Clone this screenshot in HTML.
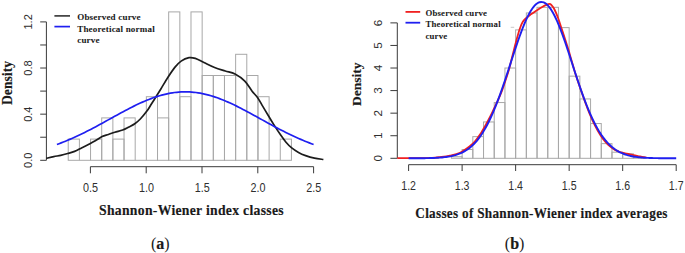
<!DOCTYPE html>
<html><head><meta charset="utf-8"><title>Histograms</title>
<style>
html,body{margin:0;padding:0;background:#fff;}
body{width:685px;height:253px;overflow:hidden;font-family:"Liberation Sans",sans-serif;}
svg{display:block;}
</style></head><body>
<svg width="685" height="253" viewBox="0 0 685 253">
<rect width="685" height="253" fill="#fff"/>
<g fill="none" stroke="#a8a8a8" stroke-width="1"><rect x="68.23" y="139.10" width="11.16" height="21.20"/><path d="M79.39,160.30 L90.55,160.30"/><rect x="90.55" y="139.10" width="11.16" height="21.20"/><rect x="101.71" y="117.90" width="11.16" height="42.40"/><rect x="112.87" y="139.10" width="11.16" height="21.20"/><rect x="124.03" y="117.90" width="11.16" height="42.40"/><path d="M135.19,160.30 L146.35,160.30"/><rect x="146.35" y="96.70" width="11.16" height="63.60"/><rect x="157.51" y="117.90" width="11.16" height="42.40"/><rect x="168.67" y="11.90" width="11.16" height="148.40"/><rect x="179.83" y="96.70" width="11.16" height="63.60"/><rect x="190.99" y="11.90" width="11.16" height="148.40"/><rect x="202.15" y="75.50" width="11.16" height="84.80"/><rect x="213.31" y="75.50" width="11.16" height="84.80"/><rect x="224.47" y="75.50" width="11.16" height="84.80"/><rect x="235.63" y="54.30" width="11.16" height="106.00"/><rect x="246.79" y="75.50" width="11.16" height="84.80"/><rect x="257.95" y="96.70" width="11.16" height="63.60"/><path d="M269.11,160.30 L280.27,160.30"/><rect x="280.27" y="139.10" width="11.16" height="21.20"/></g>
<g stroke="#3a3a3a" stroke-width="1" fill="none">
<path d="M46.4,21.9 L46.4,160.3"/>
<path d="M40.2,160.30 L46.4,160.30"/>
<path d="M40.2,137.23 L46.4,137.23"/>
<path d="M40.2,114.17 L46.4,114.17"/>
<path d="M40.2,91.10 L46.4,91.10"/>
<path d="M40.2,68.03 L46.4,68.03"/>
<path d="M40.2,44.97 L46.4,44.97"/>
<path d="M40.2,21.90 L46.4,21.90"/>
<path d="M90.4,166.7 L313.6,166.7"/>
<path d="M90.40,166.7 L90.40,173.3"/>
<path d="M146.20,166.7 L146.20,173.3"/>
<path d="M202.00,166.7 L202.00,173.3"/>
<path d="M257.80,166.7 L257.80,173.3"/>
<path d="M313.60,166.7 L313.60,173.3"/>
</g>
<path d="M46.20,158.40 C47.47,158.10 51.38,157.12 53.80,156.60 C56.22,156.08 58.38,155.82 60.70,155.30 C63.02,154.78 65.38,154.15 67.70,153.50 C70.02,152.85 72.30,152.32 74.60,151.40 C76.90,150.48 79.20,149.15 81.50,148.00 C83.80,146.85 86.10,145.70 88.40,144.50 C90.70,143.30 93.02,142.12 95.30,140.80 C97.58,139.48 99.92,137.65 102.10,136.60 C104.28,135.55 106.28,135.23 108.40,134.50 C110.52,133.77 112.42,132.95 114.80,132.20 C117.18,131.45 120.33,130.88 122.70,130.00 C125.07,129.12 126.98,127.95 129.00,126.90 C131.02,125.85 132.92,125.02 134.80,123.70 C136.68,122.38 138.28,121.10 140.30,119.00 C142.32,116.90 145.05,113.60 146.90,111.10 C148.75,108.60 149.83,106.47 151.40,104.00 C152.97,101.53 154.70,98.85 156.30,96.30 C157.90,93.75 159.13,91.75 161.00,88.70 C162.87,85.65 165.20,81.55 167.50,78.00 C169.80,74.45 172.53,70.22 174.80,67.40 C177.07,64.58 178.73,62.72 181.10,61.10 C183.47,59.48 186.63,58.15 189.00,57.70 C191.37,57.25 192.82,57.60 195.30,58.40 C197.78,59.20 200.68,60.98 203.90,62.50 C207.12,64.02 211.03,66.08 214.60,67.50 C218.17,68.92 221.90,69.92 225.30,71.00 C228.70,72.08 231.75,72.32 235.00,74.00 C238.25,75.68 241.95,78.23 244.80,81.10 C247.65,83.97 249.98,88.47 252.10,91.20 C254.22,93.93 255.72,94.97 257.50,97.50 C259.28,100.03 261.03,103.45 262.80,106.40 C264.57,109.35 266.32,112.25 268.10,115.20 C269.88,118.15 271.40,120.78 273.50,124.10 C275.60,127.42 278.62,132.08 280.70,135.10 C282.78,138.12 284.22,140.12 286.00,142.20 C287.78,144.28 289.32,145.90 291.40,147.60 C293.48,149.30 296.13,151.07 298.50,152.40 C300.87,153.73 302.93,154.63 305.60,155.60 C308.27,156.57 311.53,157.55 314.50,158.20 C317.47,158.85 321.92,159.28 323.40,159.50" fill="none" stroke="#1c1c1c" stroke-width="1.7" stroke-linejoin="round"/>
<path d="M56.92,144.47 L59.06,143.68 L61.20,142.87 L63.34,142.04 L65.48,141.18 L67.62,140.30 L69.75,139.39 L71.89,138.46 L74.03,137.51 L76.17,136.53 L78.31,135.53 L80.45,134.52 L82.59,133.48 L84.73,132.42 L86.87,131.35 L89.01,130.26 L91.14,129.15 L93.28,128.03 L95.42,126.89 L97.56,125.74 L99.70,124.59 L101.84,123.42 L103.98,122.25 L106.12,121.07 L108.26,119.88 L110.40,118.70 L112.53,117.52 L114.67,116.33 L116.81,115.16 L118.95,113.98 L121.09,112.82 L123.23,111.67 L125.37,110.53 L127.51,109.40 L129.65,108.29 L131.78,107.20 L133.92,106.13 L136.06,105.09 L138.20,104.07 L140.34,103.08 L142.48,102.11 L144.62,101.18 L146.76,100.29 L148.90,99.43 L151.04,98.60 L153.18,97.82 L155.31,97.08 L157.45,96.38 L159.59,95.73 L161.73,95.12 L163.87,94.56 L166.01,94.05 L168.15,93.59 L170.29,93.18 L172.43,92.83 L174.56,92.53 L176.70,92.28 L178.84,92.08 L180.98,91.94 L183.12,91.86 L185.26,91.83 L187.40,91.86 L189.54,91.94 L191.68,92.08 L193.82,92.28 L195.95,92.53 L198.09,92.83 L200.23,93.18 L202.37,93.59 L204.51,94.05 L206.65,94.56 L208.79,95.12 L210.93,95.73 L213.07,96.38 L215.21,97.08 L217.34,97.82 L219.48,98.60 L221.62,99.43 L223.76,100.29 L225.90,101.18 L228.04,102.11 L230.18,103.08 L232.32,104.07 L234.46,105.09 L236.60,106.13 L238.73,107.20 L240.87,108.29 L243.01,109.40 L245.15,110.53 L247.29,111.67 L249.43,112.82 L251.57,113.98 L253.71,115.16 L255.85,116.33 L257.99,117.52 L260.12,118.70 L262.26,119.88 L264.40,121.07 L266.54,122.25 L268.68,123.42 L270.82,124.59 L272.96,125.74 L275.10,126.89 L277.24,128.03 L279.38,129.15 L281.51,130.26 L283.65,131.35 L285.79,132.42 L287.93,133.48 L290.07,134.52 L292.21,135.53 L294.35,136.53 L296.49,137.51 L298.63,138.46 L300.77,139.39 L302.90,140.30 L305.04,141.18 L307.18,142.04 L309.32,142.87 L311.46,143.68 L313.60,144.47" fill="none" stroke="#1f1ff0" stroke-width="1.7"/>
<text transform="translate(31.6,160.30) rotate(-90) scale(0.94,1)" text-anchor="middle" font-family="Liberation Sans, sans-serif" font-size="11.8" fill="#2e2e2e">0.0</text>
<text transform="translate(31.6,114.17) rotate(-90) scale(0.94,1)" text-anchor="middle" font-family="Liberation Sans, sans-serif" font-size="11.8" fill="#2e2e2e">0.4</text>
<text transform="translate(31.6,68.03) rotate(-90) scale(0.94,1)" text-anchor="middle" font-family="Liberation Sans, sans-serif" font-size="11.8" fill="#2e2e2e">0.8</text>
<text transform="translate(31.6,21.90) rotate(-90) scale(0.94,1)" text-anchor="middle" font-family="Liberation Sans, sans-serif" font-size="11.8" fill="#2e2e2e">1.2</text>
<text transform="translate(90.60,191.6) scale(0.87,1)" text-anchor="middle" font-family="Liberation Sans, sans-serif" font-size="12.4" fill="#2e2e2e">0.5</text>
<text transform="translate(146.40,191.6) scale(0.87,1)" text-anchor="middle" font-family="Liberation Sans, sans-serif" font-size="12.4" fill="#2e2e2e">1.0</text>
<text transform="translate(202.20,191.6) scale(0.87,1)" text-anchor="middle" font-family="Liberation Sans, sans-serif" font-size="12.4" fill="#2e2e2e">1.5</text>
<text transform="translate(258.00,191.6) scale(0.87,1)" text-anchor="middle" font-family="Liberation Sans, sans-serif" font-size="12.4" fill="#2e2e2e">2.0</text>
<text transform="translate(313.80,191.6) scale(0.87,1)" text-anchor="middle" font-family="Liberation Sans, sans-serif" font-size="12.4" fill="#2e2e2e">2.5</text>
<text transform="translate(11.5,83.0) rotate(-90)" text-anchor="middle" font-family="Liberation Serif, serif" stroke="#1a1a1a" stroke-width="0.15" font-weight="bold" font-size="13.7" fill="#1a1a1a">Density</text>
<text transform="translate(99.0,215.0) scale(0.958,1)" font-family="Liberation Serif, serif" stroke="#1a1a1a" stroke-width="0.15" font-weight="bold" font-size="14.3" letter-spacing="0.3" fill="#1a1a1a">Shannon-Wiener index classes</text>
<text x="151.0" y="248.5" font-family="Liberation Serif, serif" font-size="16" fill="#1a1a1a">(<tspan font-weight="bold" stroke="#1a1a1a" stroke-width="0.2">a</tspan>)</text>
<path d="M54.4,15.9 L70.0,15.9" stroke="#333" stroke-width="1.6"/>
<path d="M54.4,26.6 L70.0,26.6" stroke="#1f1ff0" stroke-width="1.7"/>
<g font-family="Liberation Serif, serif" stroke="#1a1a1a" stroke-width="0.05" font-weight="bold" font-size="9.05" letter-spacing="0.18" fill="#1a1a1a">
<text x="77.2" y="20.0">Observed curve</text>
<text x="77.2" y="32.0">Theoretical normal</text>
<text x="77.2" y="42.9">curve</text>
</g>
<g fill="none" stroke="#a8a8a8" stroke-width="1"><rect x="451.42" y="156.72" width="10.70" height="1.58"/><rect x="462.12" y="149.50" width="10.70" height="8.80"/><rect x="472.82" y="136.63" width="10.70" height="21.67"/><rect x="483.53" y="121.96" width="10.70" height="36.34"/><rect x="494.23" y="102.55" width="10.70" height="55.75"/><rect x="504.94" y="68.02" width="10.70" height="90.28"/><rect x="515.64" y="29.88" width="10.70" height="128.42"/><rect x="526.34" y="12.95" width="10.70" height="145.35"/><rect x="537.05" y="7.31" width="10.70" height="150.99"/><rect x="547.75" y="7.31" width="10.70" height="150.99"/><rect x="558.46" y="27.62" width="10.70" height="130.68"/><rect x="569.16" y="76.15" width="10.70" height="82.15"/><rect x="579.86" y="98.94" width="10.70" height="59.36"/><rect x="590.57" y="123.54" width="10.70" height="34.76"/><rect x="601.27" y="143.63" width="10.70" height="14.67"/><rect x="611.98" y="152.21" width="10.70" height="6.09"/><rect x="622.68" y="153.79" width="10.70" height="4.51"/><rect x="633.38" y="156.95" width="10.70" height="1.35"/></g>
<g stroke="#3a3a3a" stroke-width="1" fill="none">
<path d="M397.3,22.9 L397.3,158.3"/>
<path d="M390.4,158.30 L397.3,158.30"/>
<path d="M390.4,135.73 L397.3,135.73"/>
<path d="M390.4,113.16 L397.3,113.16"/>
<path d="M390.4,90.59 L397.3,90.59"/>
<path d="M390.4,68.02 L397.3,68.02"/>
<path d="M390.4,45.45 L397.3,45.45"/>
<path d="M390.4,22.88 L397.3,22.88"/>
<path d="M408.6,164.7 L676.2,164.7"/>
<path d="M408.60,164.7 L408.60,171.0"/>
<path d="M462.12,164.7 L462.12,171.0"/>
<path d="M515.64,164.7 L515.64,171.0"/>
<path d="M569.16,164.7 L569.16,171.0"/>
<path d="M622.68,164.7 L622.68,171.0"/>
<path d="M676.20,164.7 L676.20,171.0"/>
</g>
<path d="M397.30,158.10 C401.08,158.10 414.22,158.13 420.00,158.10 C425.78,158.07 428.67,158.07 432.00,157.90 C435.33,157.73 437.00,157.48 440.00,157.10 C443.00,156.72 446.67,156.33 450.00,155.60 C453.33,154.87 456.67,154.30 460.00,152.70 C463.33,151.10 467.50,147.90 470.00,146.00 C472.50,144.10 473.33,143.20 475.00,141.30 C476.67,139.40 478.33,137.12 480.00,134.60 C481.67,132.08 483.33,129.15 485.00,126.20 C486.67,123.25 488.50,119.83 490.00,116.90 C491.50,113.97 492.67,111.38 494.00,108.60 C495.33,105.82 496.67,103.20 498.00,100.20 C499.33,97.20 500.83,93.65 502.00,90.60 C503.17,87.55 503.83,85.43 505.00,81.90 C506.17,78.37 507.68,74.05 509.00,69.40 C510.32,64.75 511.58,59.13 512.90,54.00 C514.22,48.87 515.75,42.82 516.90,38.60 C518.05,34.38 518.82,31.50 519.80,28.70 C520.78,25.90 521.65,23.65 522.80,21.80 C523.95,19.95 525.42,18.80 526.70,17.60 C527.98,16.40 529.03,15.67 530.50,14.60 C531.97,13.53 533.48,12.52 535.50,11.20 C537.52,9.88 540.88,7.72 542.60,6.70 C544.32,5.68 544.65,5.57 545.80,5.10 C546.95,4.63 548.55,3.88 549.50,3.90 C550.45,3.92 550.67,4.27 551.50,5.20 C552.33,6.13 553.42,7.40 554.50,9.50 C555.58,11.60 556.82,14.63 558.00,17.80 C559.18,20.97 560.40,24.87 561.60,28.50 C562.80,32.13 564.02,35.93 565.20,39.60 C566.38,43.27 567.72,47.27 568.70,50.50 C569.68,53.73 570.05,55.35 571.10,59.00 C572.15,62.65 573.52,67.67 575.00,72.40 C576.48,77.13 578.33,82.53 580.00,87.40 C581.67,92.27 583.33,97.07 585.00,101.60 C586.67,106.13 588.33,110.60 590.00,114.60 C591.67,118.60 593.33,122.30 595.00,125.60 C596.67,128.90 598.33,131.77 600.00,134.40 C601.67,137.03 603.33,139.40 605.00,141.40 C606.67,143.40 608.33,144.98 610.00,146.40 C611.67,147.82 613.33,148.97 615.00,149.90 C616.67,150.83 618.33,151.43 620.00,152.00 C621.67,152.57 623.33,152.92 625.00,153.30 C626.67,153.68 628.33,153.97 630.00,154.30 C631.67,154.63 633.33,154.93 635.00,155.30 C636.67,155.67 638.07,156.10 640.00,156.50 C641.93,156.90 645.50,157.50 646.60,157.70" fill="none" stroke="#f02020" stroke-width="1.8" stroke-linejoin="round"/>
<path d="M510.7,27.3 L514.2,27.3" stroke="#c8c8c8" stroke-width="1"/>
<path d="M408.60,158.29 L409.94,158.28 L411.28,158.28 L412.61,158.27 L413.95,158.27 L415.29,158.26 L416.63,158.26 L417.97,158.25 L419.30,158.24 L420.64,158.23 L421.98,158.21 L423.32,158.20 L424.66,158.18 L425.99,158.16 L427.33,158.13 L428.67,158.10 L430.01,158.07 L431.35,158.03 L432.68,157.99 L434.02,157.93 L435.36,157.88 L436.70,157.81 L438.04,157.73 L439.37,157.64 L440.71,157.54 L442.05,157.43 L443.39,157.30 L444.73,157.15 L446.06,156.98 L447.40,156.79 L448.74,156.58 L450.08,156.34 L451.42,156.08 L452.75,155.78 L454.09,155.45 L455.43,155.08 L456.77,154.67 L458.11,154.21 L459.44,153.71 L460.78,153.15 L462.12,152.54 L463.46,151.87 L464.80,151.13 L466.13,150.32 L467.47,149.44 L468.81,148.47 L470.15,147.43 L471.49,146.29 L472.82,145.07 L474.16,143.74 L475.50,142.31 L476.84,140.77 L478.18,139.13 L479.51,137.36 L480.85,135.48 L482.19,133.48 L483.53,131.35 L484.87,129.09 L486.20,126.70 L487.54,124.18 L488.88,121.53 L490.22,118.75 L491.56,115.84 L492.89,112.80 L494.23,109.64 L495.57,106.35 L496.91,102.95 L498.25,99.43 L499.58,95.81 L500.92,92.09 L502.26,88.28 L503.60,84.39 L504.94,80.43 L506.27,76.41 L507.61,72.35 L508.95,68.26 L510.29,64.14 L511.63,60.03 L512.96,55.93 L514.30,51.86 L515.64,47.84 L516.98,43.87 L518.32,40.00 L519.65,36.21 L520.99,32.55 L522.33,29.02 L523.67,25.64 L525.01,22.43 L526.34,19.40 L527.68,16.57 L529.02,13.96 L530.36,11.57 L531.70,9.43 L533.03,7.54 L534.37,5.91 L535.71,4.55 L537.05,3.48 L538.39,2.69 L539.72,2.19 L541.06,1.98 L542.40,2.07 L543.74,2.45 L545.08,3.13 L546.41,4.09 L547.75,5.33 L549.09,6.85 L550.43,8.64 L551.77,10.68 L553.10,12.97 L554.44,15.50 L555.78,18.24 L557.12,21.19 L558.46,24.33 L559.79,27.65 L561.13,31.12 L562.47,34.73 L563.81,38.47 L565.15,42.31 L566.48,46.24 L567.82,50.24 L569.16,54.30 L570.50,58.39 L571.84,62.50 L573.17,66.61 L574.51,70.72 L575.85,74.79 L577.19,78.83 L578.53,82.81 L579.86,86.73 L581.20,90.57 L582.54,94.33 L583.88,97.99 L585.22,101.55 L586.55,105.00 L587.89,108.34 L589.23,111.55 L590.57,114.64 L591.91,117.61 L593.24,120.44 L594.58,123.14 L595.92,125.71 L597.26,128.15 L598.60,130.46 L599.93,132.64 L601.27,134.69 L602.61,136.63 L603.95,138.44 L605.29,140.13 L606.62,141.71 L607.96,143.18 L609.30,144.55 L610.64,145.81 L611.98,146.99 L613.31,148.07 L614.65,149.06 L615.99,149.98 L617.33,150.81 L618.67,151.58 L620.00,152.28 L621.34,152.91 L622.68,153.49 L624.02,154.02 L625.36,154.49 L626.69,154.92 L628.03,155.31 L629.37,155.65 L630.71,155.96 L632.05,156.24 L633.38,156.49 L634.72,156.71 L636.06,156.91 L637.40,157.08 L638.74,157.24 L640.07,157.38 L641.41,157.50 L642.75,157.60 L644.09,157.70 L645.43,157.78 L646.76,157.85 L648.10,157.91 L649.44,157.97 L650.78,158.01 L652.12,158.05 L653.45,158.09 L654.79,158.12 L656.13,158.15 L657.47,158.17 L658.81,158.19 L660.14,158.21 L661.48,158.22 L662.82,158.23 L664.16,158.24 L665.50,158.25 L666.83,158.26 L668.17,158.27 L669.51,158.27 L670.85,158.28 L672.19,158.28 L673.52,158.28 L674.86,158.29 L676.20,158.29" fill="none" stroke="#1f1ff0" stroke-width="1.9"/>
<text transform="translate(381.8,158.30) rotate(-90)" text-anchor="middle" font-family="Liberation Sans, sans-serif" font-size="11.8" fill="#2e2e2e">0</text>
<text transform="translate(381.8,135.73) rotate(-90)" text-anchor="middle" font-family="Liberation Sans, sans-serif" font-size="11.8" fill="#2e2e2e">1</text>
<text transform="translate(381.8,113.16) rotate(-90)" text-anchor="middle" font-family="Liberation Sans, sans-serif" font-size="11.8" fill="#2e2e2e">2</text>
<text transform="translate(381.8,90.59) rotate(-90)" text-anchor="middle" font-family="Liberation Sans, sans-serif" font-size="11.8" fill="#2e2e2e">3</text>
<text transform="translate(381.8,68.02) rotate(-90)" text-anchor="middle" font-family="Liberation Sans, sans-serif" font-size="11.8" fill="#2e2e2e">4</text>
<text transform="translate(381.8,45.45) rotate(-90)" text-anchor="middle" font-family="Liberation Sans, sans-serif" font-size="11.8" fill="#2e2e2e">5</text>
<text transform="translate(381.8,22.88) rotate(-90)" text-anchor="middle" font-family="Liberation Sans, sans-serif" font-size="11.8" fill="#2e2e2e">6</text>
<text transform="translate(408.60,190.1) scale(0.86,1)" text-anchor="middle" font-family="Liberation Sans, sans-serif" font-size="12.3" fill="#2e2e2e">1.2</text>
<text transform="translate(462.12,190.1) scale(0.86,1)" text-anchor="middle" font-family="Liberation Sans, sans-serif" font-size="12.3" fill="#2e2e2e">1.3</text>
<text transform="translate(515.64,190.1) scale(0.86,1)" text-anchor="middle" font-family="Liberation Sans, sans-serif" font-size="12.3" fill="#2e2e2e">1.4</text>
<text transform="translate(569.16,190.1) scale(0.86,1)" text-anchor="middle" font-family="Liberation Sans, sans-serif" font-size="12.3" fill="#2e2e2e">1.5</text>
<text transform="translate(622.68,190.1) scale(0.86,1)" text-anchor="middle" font-family="Liberation Sans, sans-serif" font-size="12.3" fill="#2e2e2e">1.6</text>
<text transform="translate(676.20,190.1) scale(0.86,1)" text-anchor="middle" font-family="Liberation Sans, sans-serif" font-size="12.3" fill="#2e2e2e">1.7</text>
<text transform="translate(361.3,84.2) rotate(-90)" text-anchor="middle" font-family="Liberation Serif, serif" stroke="#1a1a1a" stroke-width="0.15" font-weight="bold" font-size="13.5" fill="#1a1a1a">Density</text>
<text transform="translate(415.3,218.0) scale(0.958,1)" font-family="Liberation Serif, serif" stroke="#1a1a1a" stroke-width="0.15" font-weight="bold" font-size="13.8" letter-spacing="0.3" fill="#1a1a1a">Classes of Shannon-Wiener index averages</text>
<text x="504.8" y="248.5" font-family="Liberation Serif, serif" font-size="16" fill="#1a1a1a">(<tspan font-weight="bold" stroke="#1a1a1a" stroke-width="0.2">b</tspan>)</text>
<path d="M405.5,11.9 L420.2,11.9" stroke="#f02020" stroke-width="1.8"/>
<path d="M405.5,22.7 L420.2,22.7" stroke="#1f1ff0" stroke-width="1.8"/>
<g font-family="Liberation Serif, serif" stroke="#1a1a1a" stroke-width="0.05" font-weight="bold" font-size="8.75" letter-spacing="0.18" fill="#1a1a1a">
<text x="425.5" y="15.8">Observed curve</text>
<text x="425.5" y="27.3">Theoretical normal</text>
<text x="425.5" y="38.5">curve</text>
</g>
</svg>
</body></html>
